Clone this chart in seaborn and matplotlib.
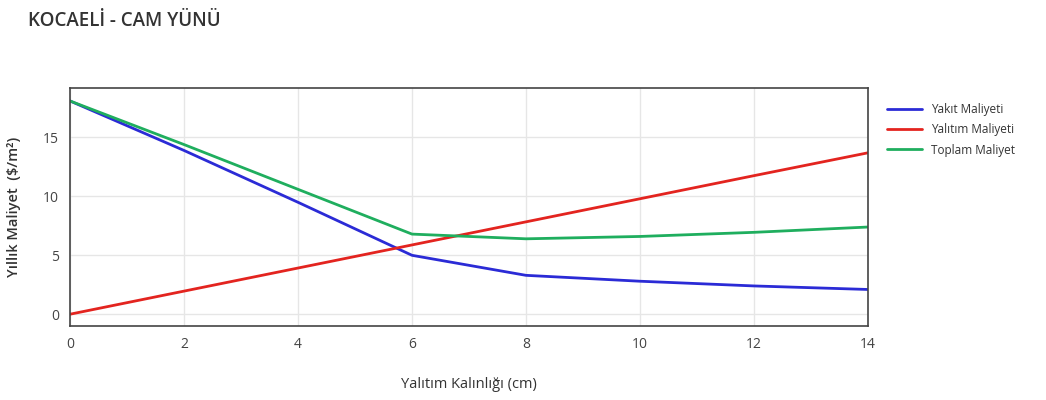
import numpy as np
import pandas as pd
import matplotlib
matplotlib.use("Agg")
import matplotlib.pyplot as plt
import seaborn as sns

# Data
thickness = [0, 2, 4, 6, 8, 10, 12, 14]
fuel_cost = [18.1, 13.9, 9.5, 5.0, 3.3, 2.8, 2.4, 2.1]
insulation_cost = [0.0, 1.96, 3.92, 5.88, 7.84, 9.8, 11.76, 13.7]
total_cost = [18.1, 14.4, 10.6, 6.8, 6.4, 6.6, 6.95, 7.4]
series_names = ["Yakıt Maliyeti", "Yalıtım Maliyeti", "Toplam Maliyet"]
x_ticks = [0, 2, 4, 6, 8, 10, 12, 14]
y_ticks = [0, 5, 10, 15]

sns.set_theme(style="white")
plt.rcParams['font.family'] = ['Open Sans', 'DejaVu Sans']

df = pd.concat([
    pd.DataFrame({"x": thickness, "y": fuel_cost, "s": series_names[0]}),
    pd.DataFrame({"x": thickness, "y": insulation_cost, "s": series_names[1]}),
    pd.DataFrame({"x": thickness, "y": total_cost, "s": series_names[2]}),
])

palette = {series_names[0]: "#2b2bd6", series_names[1]: "#e3241f", series_names[2]: "#1fae5e"}

fig = plt.figure(figsize=(10.46, 4.0), dpi=100)
ax = fig.add_axes([70/1046, 1-326/400, (868-70)/1046, (326-88)/400])

sns.lineplot(data=df, x="x", y="y", hue="s", palette=palette, linewidth=2, ax=ax, sort=False)

ax.set_xlim(0, 14)
ax.set_ylim(-1.0, 19.2)
ax.set_xticks(x_ticks)
ax.set_yticks(y_ticks)
ax.grid(True, color="#e6e6e6", linewidth=1)
ax.set_axisbelow(True)
for sp in ax.spines.values():
    sp.set_color("#444444")
    sp.set_linewidth(1.2)
ax.tick_params(axis="both", length=0, labelsize=10, colors="#444444", pad=8)

ax.set_xlabel("Yalıtım Kalınlığı (cm)", fontsize=10.5, color="#333333", labelpad=18)
ax.set_ylabel("Yıllık Maliyet  ($/m²)", fontsize=10.5, color="#333333", labelpad=16,
              fontweight="semibold")

leg = ax.legend(loc="upper left", bbox_to_anchor=(1.01, 0.98), frameon=False,
                fontsize=8.5, handlelength=3, labelspacing=0.6, title=None)
for t in leg.get_texts():
    t.set_color("#333333")

fig.text(28/1046, 1-21/400, "KOCAELİ - CAM YÜNÜ", fontsize=13.5, color="#333333",
         va="center", ha="left", fontweight="semibold")

fig.savefig("out.png", dpi=100)
